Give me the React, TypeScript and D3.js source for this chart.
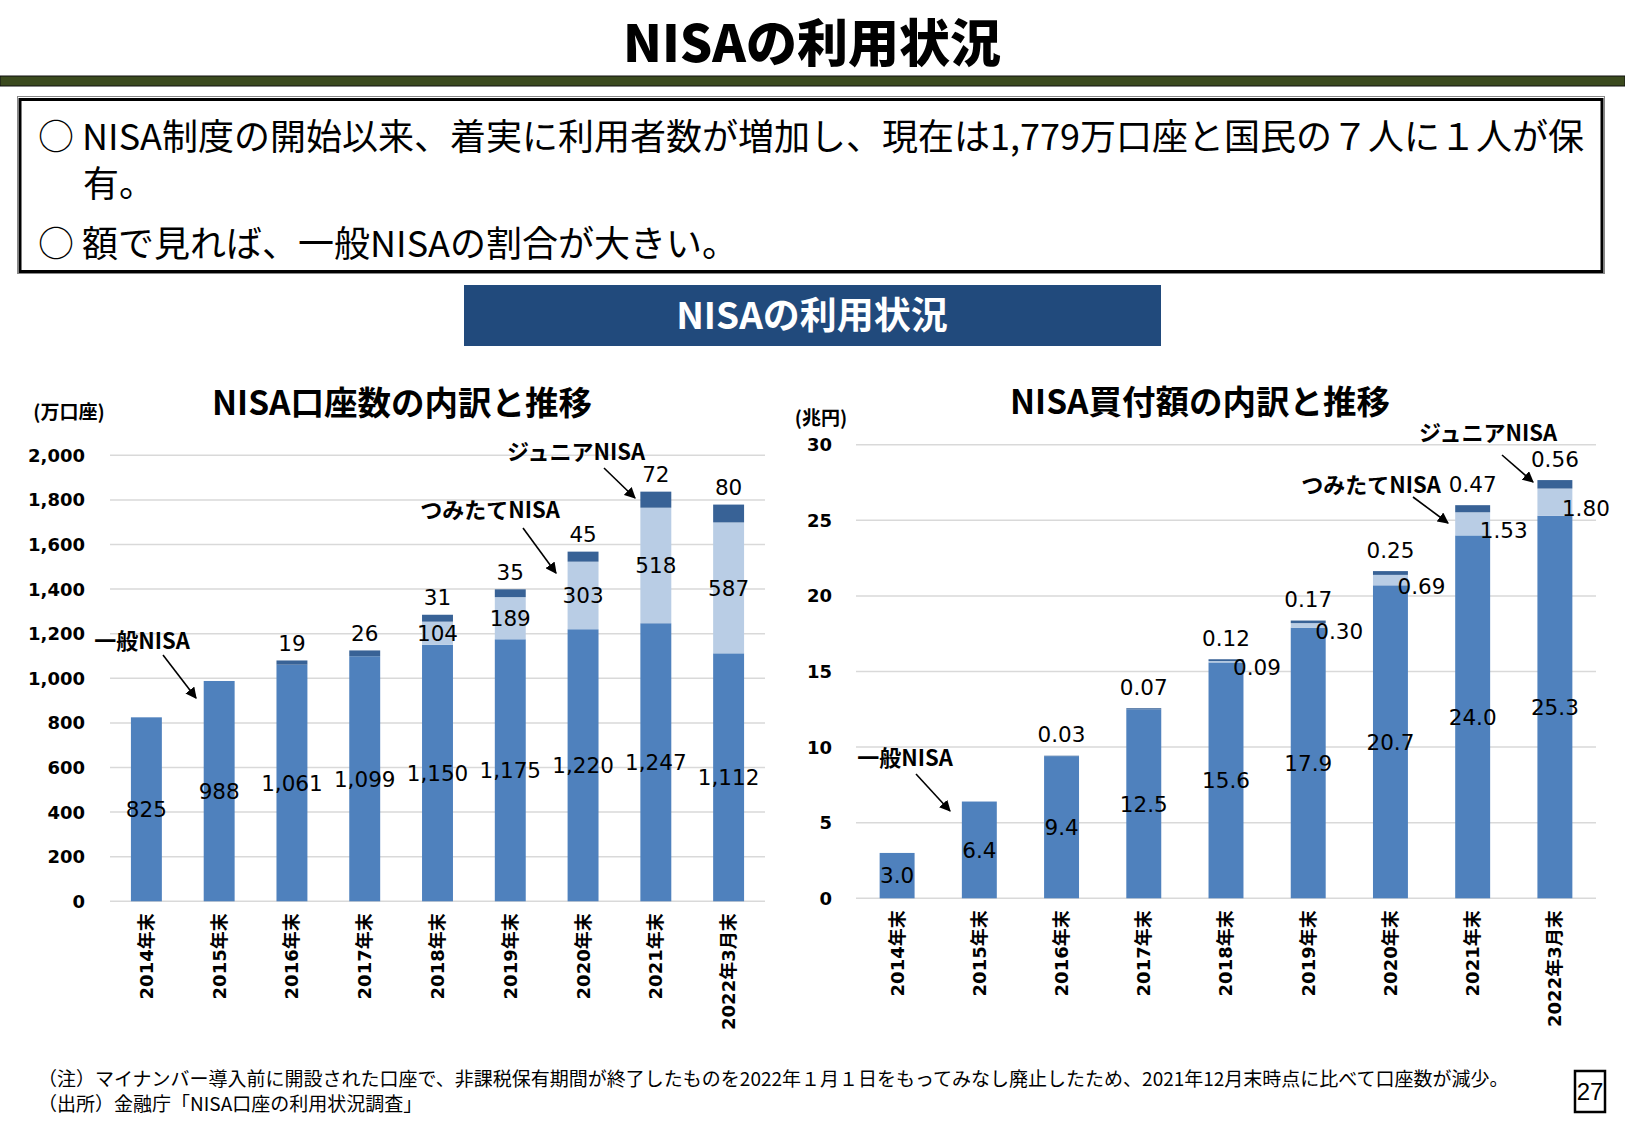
import React, { useEffect } from "react";
import * as d3 from "d3";

// categories (x axis)
const categories = [
  "2014年末",
  "2015年末",
  "2016年末",
  "2017年末",
  "2018年末",
  "2019年末",
  "2020年末",
  "2021年末",
  "2022年3月末",
];

// NISA口座数 (万口座)
const accountsGeneral = [825, 988, 1061, 1099, 1150, 1175, 1220, 1247, 1112];
const accountsTsumitate = [0, 0, 0, 0, 104, 189, 303, 518, 587];
const accountsJunior = [0, 0, 19, 26, 31, 35, 45, 72, 80];
const accountTicks = [0, 200, 400, 600, 800, 1000, 1200, 1400, 1600, 1800, 2000];

// NISA買付額 (兆円)
const amountGeneral = [3.0, 6.4, 9.4, 12.5, 15.6, 17.9, 20.7, 24.0, 25.3];
const amountTsumitate = [0, 0, 0, 0, 0.09, 0.3, 0.69, 1.53, 1.8];
const amountJunior = [0, 0, 0.03, 0.07, 0.12, 0.17, 0.25, 0.47, 0.56];
const amountTicks = [0, 5, 10, 15, 20, 25, 30];

const seriesKeys = ["general", "tsumitate", "junior"];
const seriesColors: Record<string, string> = {
  general: "#4F81BD",
  tsumitate: "#B9CDE5",
  junior: "#386296",
};

const JP = "'Noto Sans CJK JP', sans-serif";
const NUM = "'DejaVu Sans', 'Noto Sans CJK JP', sans-serif";

type Annot = { text: string; tx: number; ty: number; x1: number; y1: number; x2: number; y2: number };

type ChartProps = {
  general: number[];
  tsumitate: number[];
  junior: number[];
  ticks: number[];
  x0: number;
  x1: number;
  yBottom: number;
  yTop: number;
  tickFmt: (v: number) => string;
  fmtGeneral: (v: number) => string;
  fmtOther: (v: number) => string;
  tsumitateDx: number;
  tsumitateDy: number;
  juniorLift: number;
  tickRight: number;
  title: string;
  titleX: number;
  titleY: number;
  unit: string;
  unitX: number;
  unitY: number;
  notes: Annot[];
};

const StackedChart = (p: ChartProps) => {
  const x = d3.scaleBand<string>().domain(categories).range([p.x0, p.x1]).paddingInner(0.575).paddingOuter(0.2875);
  const y = d3.scaleLinear().domain([0, p.ticks[p.ticks.length - 1]]).range([p.yBottom, p.yTop]);

  const rows = categories.map((c, i) => ({
    cat: c,
    general: p.general[i],
    tsumitate: p.tsumitate[i],
    junior: p.junior[i],
  }));
  const stacked = d3.stack<any>().keys(seriesKeys)(rows);
  const bw = x.bandwidth();

  return (
    <g>
      <text x={p.titleX} y={p.titleY + 12} textAnchor="middle" fontFamily={JP} fontWeight={700} fontSize={33.5}>
        {p.title}
      </text>
      <text x={p.unitX} y={p.unitY + 7} textAnchor="middle" fontFamily={JP} fontWeight={700} fontSize={19}>
        {p.unit}
      </text>

      {p.ticks.map((t) => (
        <g key={t}>
          <line x1={p.x0} x2={p.x1} y1={y(t)} y2={y(t)} stroke="#D9D9D9" strokeWidth={1.5} />
          <text x={p.tickRight} y={y(t)} dy="0.36em" textAnchor="end" fontFamily={NUM} fontWeight={700} fontSize={18}>
            {p.tickFmt(t)}
          </text>
        </g>
      ))}

      {stacked.map((s) => (
        <g key={s.key} fill={seriesColors[s.key]}>
          {s.map((d, i) =>
            d[1] - d[0] > 0 ? (
              <rect key={i} x={x(categories[i])} y={y(d[1])} width={bw} height={y(d[0]) - y(d[1])} />
            ) : null
          )}
        </g>
      ))}

      {stacked.map((s) =>
        s.map((d, i) => {
          const raw = (rows[i] as any)[s.key] as number;
          if (!(raw > 0)) return null;
          const cx = (x(categories[i]) as number) + bw / 2;
          let lx = cx;
          let ly = (y(d[0]) + y(d[1])) / 2;
          if (s.key === "tsumitate") {
            lx = cx + p.tsumitateDx;
            ly = ly + p.tsumitateDy;
          }
          if (s.key === "junior") ly = y(d[1]) - p.juniorLift;
          const label = s.key === "general" ? p.fmtGeneral(raw) : p.fmtOther(raw);
          return (
            <text
              key={s.key + i}
              x={lx}
              y={ly}
              dy="0.36em"
              textAnchor="middle"
              fontFamily={NUM}
              fontSize={21.5}
              fill="#000"
            >
              {label}
            </text>
          );
        })
      )}

      {categories.map((c) => (
        <text
          key={c}
          transform={`translate(${(x(c) as number) + bw / 2},${p.yBottom + 12}) rotate(-90)`}
          dy="0.36em"
          textAnchor="end"
          fontFamily={NUM}
          fontWeight={700}
          fontSize={18}
        >
          {c}
        </text>
      ))}

      {p.notes.map((n) => (
        <g key={n.text}>
          <text x={n.tx} y={n.ty + 8} textAnchor="middle" fontFamily={JP} fontWeight={700} fontSize={22}>
            {n.text}
          </text>
          <line x1={n.x1} y1={n.y1} x2={n.x2} y2={n.y2} stroke="#000" strokeWidth={1.6} markerEnd="url(#arrow)" />
        </g>
      ))}
    </g>
  );
};

const App = () => {
  useEffect(() => {
    document.body.style.margin = "0";
  }, []);

  return (
    <svg width={1625} height={1125} viewBox="0 0 1625 1125" style={{ display: "block", background: "#fff" }}>
      <defs>
        <marker id="arrow" viewBox="0 0 10 10" refX="9" refY="5" markerWidth="7" markerHeight="7" orient="auto">
          <path d="M0,0 L10,5 L0,10 z" fill="#000" />
        </marker>
      </defs>
      <rect width={1625} height={1125} fill="#fff" />

      {/* page header */}
      <text x={812} y={62} textAnchor="middle" fontFamily={JP} fontWeight={900} fontSize={51}>
        NISAの利用状況
      </text>
      <rect x={0} y={76} width={1625} height={10} fill="#3B4A1E" stroke="#111" strokeWidth={1} />

      {/* summary box */}
      <rect x={17.5} y={96.5} width={1587} height={177} fill="none" stroke="#888" strokeWidth={1} />
      <rect x={20} y={99.5} width={1582} height={172} fill="#fff" stroke="#000" strokeWidth={3} />
      <g fontFamily={JP} fontSize={36}>
        <text x={38} y={150}>○ NISA制度の開始以来、着実に利用者数が増加し、現在は1,779万口座と国民の７人に１人が保</text>
        <text x={83} y={197}>有。</text>
        <text x={38} y={257}>○ 額で見れば、一般NISAの割合が大きい。</text>
      </g>

      {/* section banner */}
      <rect x={464} y={285} width={697} height={61} fill="#214A7C" />
      <text x={812} y={329} textAnchor="middle" fontFamily={JP} fontWeight={700} fontSize={37} fill="#fff">
        NISAの利用状況
      </text>

      <StackedChart
        general={accountsGeneral}
        tsumitate={accountsTsumitate}
        junior={accountsJunior}
        ticks={accountTicks}
        x0={110}
        x1={765}
        yBottom={901.3}
        yTop={455.3}
        tickFmt={d3.format(",")}
        fmtGeneral={d3.format(",")}
        fmtOther={d3.format(",")}
        tsumitateDx={0}
        tsumitateDy={0}
        juniorLift={17}
        tickRight={85}
        title="NISA口座数の内訳と推移"
        titleX={402}
        titleY={403}
        unit="(万口座)"
        unitX={69}
        unitY={412}
        notes={[
          { text: "一般NISA", tx: 142, ty: 641, x1: 163, y1: 655, x2: 196, y2: 698 },
          { text: "つみたてNISA", tx: 490, ty: 510, x1: 523, y1: 528, x2: 556, y2: 573 },
          { text: "ジュニアNISA", tx: 576, ty: 452, x1: 604, y1: 468, x2: 635, y2: 498 },
        ]}
      />

      <StackedChart
        general={amountGeneral}
        tsumitate={amountTsumitate}
        junior={amountJunior}
        ticks={amountTicks}
        x0={856}
        x1={1596}
        yBottom={898.3}
        yTop={444.7}
        tickFmt={d3.format("d")}
        fmtGeneral={d3.format(".1f")}
        fmtOther={d3.format(".2f")}
        tsumitateDx={31}
        tsumitateDy={6}
        juniorLift={21}
        tickRight={832}
        title="NISA買付額の内訳と推移"
        titleX={1200}
        titleY={402}
        unit="(兆円)"
        unitX={821}
        unitY={418}
        notes={[
          { text: "一般NISA", tx: 905, ty: 758, x1: 916, y1: 774, x2: 950, y2: 811 },
          { text: "つみたてNISA", tx: 1371, ty: 485, x1: 1413, y1: 497, x2: 1448, y2: 523 },
          { text: "ジュニアNISA", tx: 1488, ty: 433, x1: 1502, y1: 455, x2: 1533, y2: 482 },
        ]}
      />

      {/* footnotes */}
      <g fontFamily={JP} fontSize={19}>
        <text x={38} y={1086}>
          （注）マイナンバー導入前に開設された口座で、非課税保有期間が終了したものを2022年１月１日をもってみなし廃止したため、2021年12月末時点に比べて口座数が減少。
        </text>
        <text x={38} y={1111}>（出所）金融庁「NISA口座の利用状況調査」</text>
      </g>

      <rect x={1575} y={1071} width={30} height={41} fill="#fff" stroke="#000" strokeWidth={2.5} />
      <text x={1590} y={1100} textAnchor="middle" fontFamily="'Liberation Sans Narrow', 'Liberation Sans', sans-serif" fontSize={24}>
        27
      </text>
    </svg>
  );
};

export default App;
